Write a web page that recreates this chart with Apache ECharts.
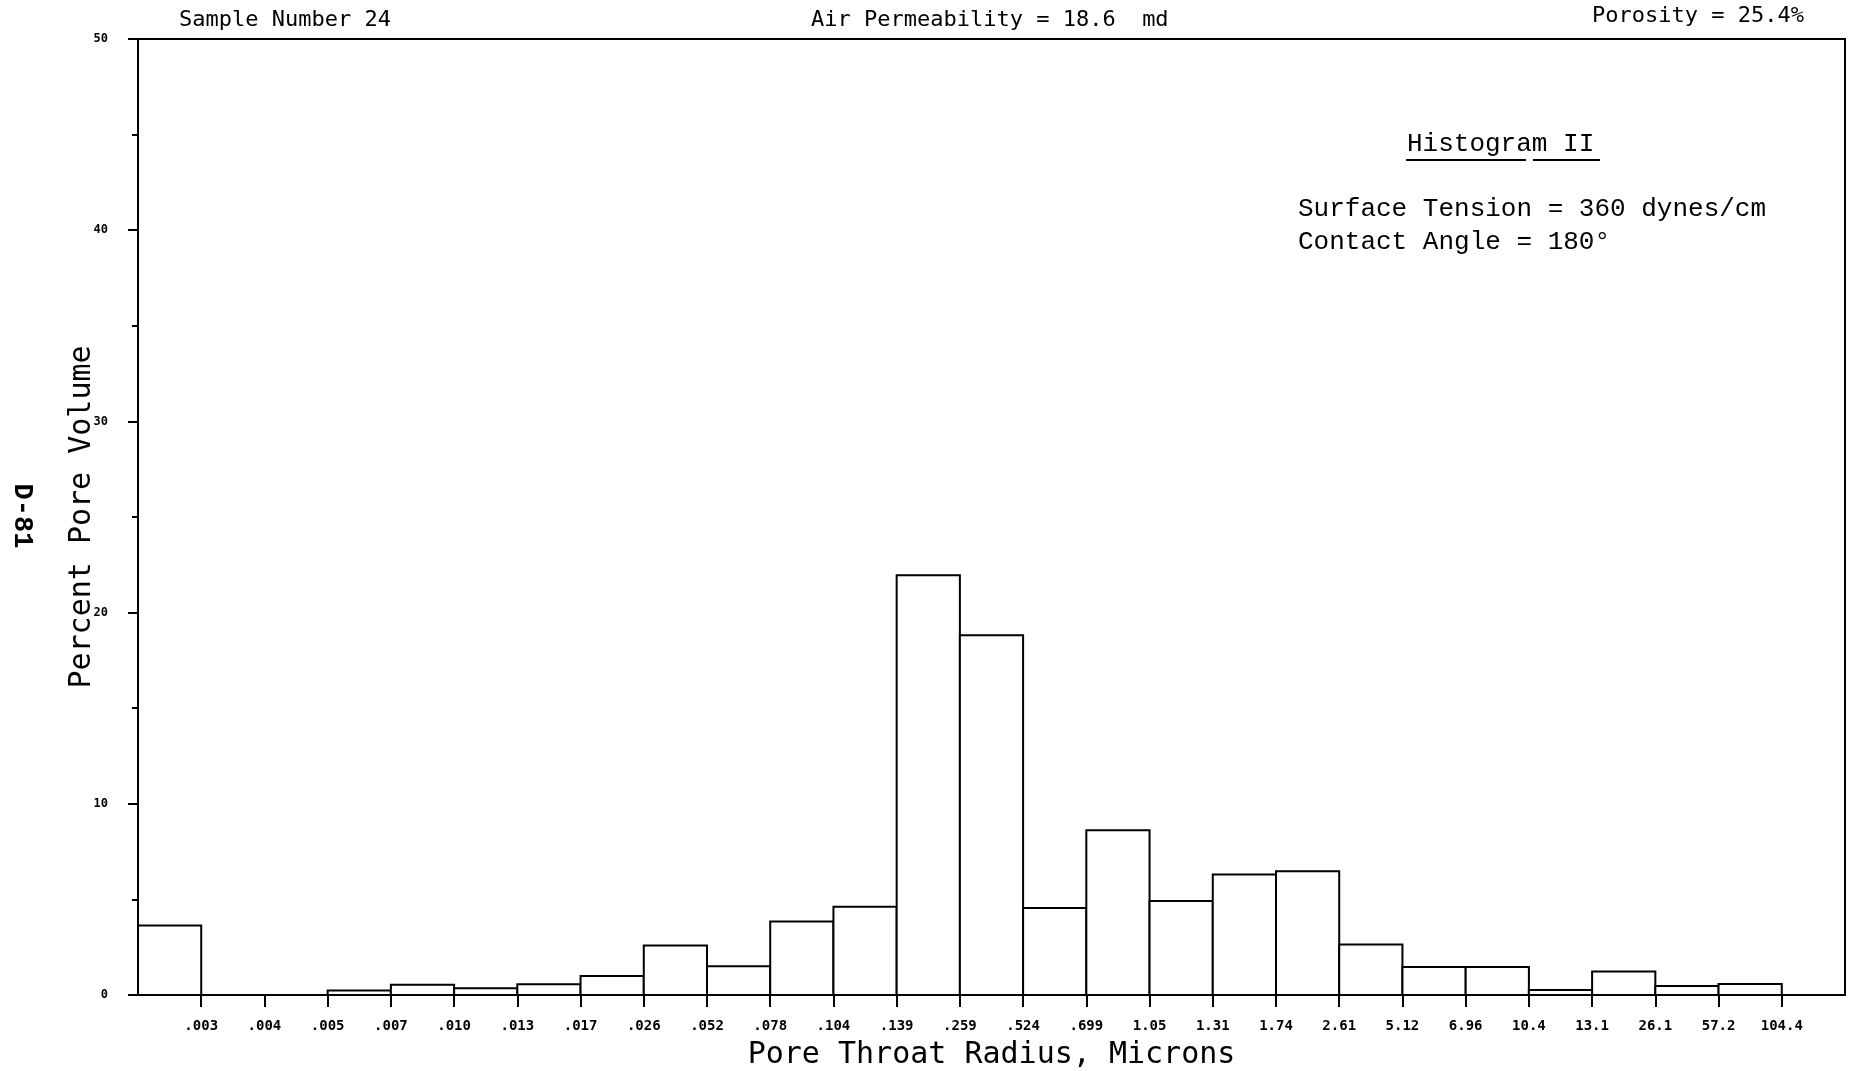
<!DOCTYPE html>
<html>
<head>
<meta charset="utf-8">
<script src="https://cdn.jsdelivr.net/npm/echarts@6/dist/echarts.min.js"></script>
<style>
html, body { margin: 0; background: #fff; }
#chart { width: 1849px; height: 1071px; }
</style>
</head>
<body>
<div id="chart"></div>
<script>
// upper bound of each size class (label sits on the right edge of its bar)
const radiusLabels = ['.003', '.004', '.005', '.007', '.010', '.013', '.017', '.026', '.052', '.078',
    '.104', '.139', '.259', '.524', '.699', '1.05', '1.31', '1.74', '2.61', '5.12',
    '6.96', '10.4', '13.1', '26.1', '57.2', '104.4'];
// percent pore volume per class
const poreVolume = [3.64, 0, 0, 0.23, 0.54, 0.35, 0.56, 1.0, 2.59, 1.51,
    3.85, 4.62, 21.95, 18.82, 4.55, 8.62, 4.92, 6.3, 6.47, 2.64,
    1.46, 1.46, 0.26, 1.23, 0.47, 0.58];
const yTicks = [0, 10, 20, 30, 40, 50];

const chart = echarts.init(document.getElementById('chart'));
const slots = poreVolume.length + 1; // one empty slot on the right
const edges = radiusLabels.map((_, i) => i + 1);

const plotFont = 'DejaVu Sans Mono';
const typeFont = 'Liberation Mono';

const option = {
    animation: false,
    backgroundColor: '#fff',
    grid: {
        left: 138, right: 4, top: 39, bottom: 76,
        containLabel: false,
        outerBoundsMode: 'none',
        show: true, borderColor: '#000', borderWidth: 2
    },
    xAxis: {
        type: 'value',
        min: 0,
        max: slots,
        interval: 1,
        splitLine: { show: false },
        axisLine: { lineStyle: { color: '#000', width: 2 } },
        axisTick: { customValues: edges, length: 12, lineStyle: { color: '#000', width: 2 } },
        axisLabel: {
            customValues: edges,
            formatter: v => radiusLabels[v - 1] || '',
            margin: 24,
            color: '#000',
            fontFamily: plotFont,
            fontWeight: 'bold',
            fontSize: 14
        },
        name: 'Pore Throat Radius, Microns',
        nameLocation: 'middle',
        nameGap: 45,
        nameMoveOverlap: false,
        nameTextStyle: { color: '#000', fontFamily: plotFont, fontSize: 30 }
    },
    yAxis: {
        type: 'value',
        min: 0,
        max: 50,
        interval: 10,
        splitLine: { show: false },
        axisLine: { show: true, lineStyle: { color: '#000', width: 2 } },
        axisTick: { show: true, length: 10, lineStyle: { color: '#000', width: 2 } },
        minorTick: { show: true, splitNumber: 2, length: 6, lineStyle: { color: '#000', width: 2 } },
        axisLabel: {
            formatter: v => yTicks.indexOf(v) >= 0 ? String(v) : '',
            margin: 30,
            color: '#000',
            fontFamily: plotFont,
            fontWeight: 'bold',
            fontSize: 12
        },
        name: 'Percent Pore Volume',
        nameLocation: 'middle',
        nameGap: 41,
        nameMoveOverlap: false,
        nameTextStyle: { color: '#000', fontFamily: plotFont, fontSize: 30 }
    },
    series: [{
        type: 'custom',
        data: poreVolume.map((v, i) => [i, v]),
        encode: { x: 0, y: 1 },
        renderItem: (params, api) => {
            const i = api.value(0);
            const v = api.value(1);
            const p0 = api.coord([i, 0]);
            const p1 = api.coord([i + 1, v]);
            return {
                type: 'rect',
                shape: { x: p0[0], y: p1[1], width: p1[0] - p0[0], height: p0[1] - p1[1] },
                style: { fill: '#fff', stroke: '#000', lineWidth: 2 }
            };
        }
    }],
    graphic: [
        { type: 'text', left: 179, top: 9, style: { text: 'Sample Number 24', font: '22px ' + plotFont, fill: '#000' } },
        { type: 'text', left: 811, top: 9, style: { text: 'Air Permeability = 18.6  md', font: '22px ' + plotFont, fill: '#000' } },
        { type: 'text', left: 1592, top: 5, style: { text: 'Porosity = 25.4%', font: '22px ' + plotFont, fill: '#000' } },
        { type: 'text', x: 22, y: 516, rotation: -Math.PI / 2,
          style: { text: 'D-81', font: 'bold 27px ' + typeFont, fill: '#000', align: 'center', verticalAlign: 'middle' } },
        { type: 'text', left: 1407, top: 131, style: { text: 'Histogram II', font: '26px ' + typeFont, fill: '#000' } },
        { type: 'line', shape: { x1: 1406, y1: 160, x2: 1526, y2: 160 }, style: { stroke: '#000', lineWidth: 2 } },
        { type: 'line', shape: { x1: 1533, y1: 160, x2: 1600, y2: 160 }, style: { stroke: '#000', lineWidth: 2 } },
        { type: 'text', left: 1298, top: 196, style: { text: 'Surface Tension = 360 dynes/cm', font: '26px ' + typeFont, fill: '#000' } },
        { type: 'text', left: 1298, top: 229, style: { text: 'Contact Angle = 180°', font: '26px ' + typeFont, fill: '#000' } }
    ]
};

chart.setOption(option);
window.addEventListener('resize', () => chart.resize());
</script>
</body>
</html>
